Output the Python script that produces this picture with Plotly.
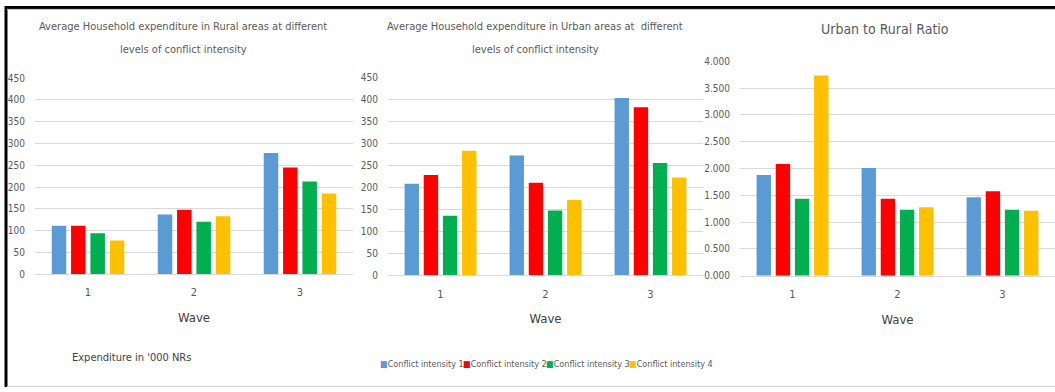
import plotly.graph_objects as go

# Survey waves and conflict-intensity groups
waves = ["1", "2", "3"]
series_names = ["Conflict intensity 1", "Conflict intensity 2",
                "Conflict intensity 3", "Conflict intensity 4"]
series_colors = ["#5B9BD5", "#FF0000", "#00B050", "#FFC000"]

# Average household expenditure, rural areas ('000 NRs), one list per intensity
rural_values = [
    [111, 137, 278],
    [111, 148, 245],
    [94, 120, 213],
    [77, 133, 185],
]

# Average household expenditure, urban areas ('000 NRs)
urban_values = [
    [209, 273, 404],
    [229, 211, 383],
    [136, 148, 256],
    [284, 172, 223],
]

# Urban to rural ratio
ratio_values = [
    [1.878, 2.008, 1.461],
    [2.083, 1.437, 1.573],
    [1.437, 1.232, 1.232],
    [3.733, 1.275, 1.213],
]

W, H = 1055, 392
FONT = "Liberation Sans Narrow, DejaVu Sans Condensed, Arial Narrow, sans-serif"
GRAY = "#595959"
DARK = "#404040"
GRID = "#D9D9D9"

# vertical placement correction for the page viewport
Y_OFF, Y_SCALE = 4.85, 0.971


def px_x(v):
    return v / W


def px_y(v):
    return 1 - ((v - Y_OFF) / Y_SCALE) / H


fig = go.Figure()

panels = [
    (rural_values, "x", "y"),
    (urban_values, "x2", "y2"),
    (ratio_values, "x3", "y3"),
]
for values, xa, ya in panels:
    for name, color, vals in zip(series_names, series_colors, values):
        fig.add_trace(go.Bar(
            x=waves, y=vals, name=name, xaxis=xa, yaxis=ya,
            marker=dict(color=color, line=dict(width=0)),
            showlegend=False,
        ))

# Plot-area geometry in pixels: (left, right, bottom, top)
geo = [
    (35, 353, 272.7, 77),
    (388, 703, 274, 76.7),
    (740, 1055, 274.3, 60),
]

xaxis_common = dict(
    type="category", showgrid=False, zeroline=False,
    showline=True, linecolor=GRID, linewidth=1,
    ticks="", ticklabelstandoff=8,
    tickfont=dict(family=FONT, size=11, color=GRAY),
    title=dict(text="Wave", font=dict(family=FONT, size=13, color=DARK), standoff=14),
)
yaxis_common = dict(
    showgrid=True, gridcolor=GRID, gridwidth=1, zeroline=False,
    showline=False, ticks="", ticklabelstandoff=9,
    tickfont=dict(family=FONT, size=10, color=GRAY),
)

layout_axes = {}
for i, (l, r, b, t) in enumerate(geo):
    sfx = "" if i == 0 else str(i + 1)
    layout_axes["xaxis" + sfx] = dict(
        xaxis_common, domain=[px_x(l), px_x(r)], anchor="y" + sfx,
    )
    if i < 2:
        yspec = dict(range=[0, 450], dtick=50, tickformat="d")
    else:
        yspec = dict(range=[0, 4], dtick=0.5, tickformat=".3f")
    layout_axes["yaxis" + sfx] = dict(
        yaxis_common, domain=[px_y(b), px_y(t)], anchor="x" + sfx, **yspec,
    )

annotations = []


def add_text(text, x, y, size, color, xanchor="center"):
    annotations.append(dict(
        text=text, x=px_x(x), y=px_y(y), xref="paper", yref="paper",
        xanchor=xanchor, yanchor="middle", showarrow=False,
        font=dict(family=FONT, size=size, color=color),
    ))


# Panel titles
add_text("Average Household expenditure in Rural areas at different", 183, 25, 11, GRAY)
add_text("levels of conflict intensity", 183, 48, 11, GRAY)
add_text("Average Household expenditure in Urban areas at  different", 535, 25, 11, GRAY)
add_text("levels of conflict intensity", 535, 48, 11, GRAY)
add_text("Urban to Rural Ratio", 885, 28, 14, GRAY)

# Unit note
add_text("Expenditure in '000 NRs", 70, 356, 11, DARK, xanchor="left")

# Series key under the middle panel
for i, (name, color) in enumerate(zip(series_names, series_colors)):
    add_text(f"<span style='color:{color}'>■</span>{name}",
             378 + i * 83, 363, 9, GRAY, xanchor="left")

shapes = [
    # outer frame: heavy top and left rules, faint bottom rule
    dict(type="line", xref="paper", yref="paper",
         x0=px_x(5), x1=1, y0=1 - 1.5 / H, y1=1 - 1.5 / H,
         line=dict(color="black", width=3)),
    dict(type="line", xref="paper", yref="paper",
         x0=px_x(6), x1=px_x(6), y0=1, y1=0,
         line=dict(color="black", width=3)),
    dict(type="line", xref="paper", yref="paper",
         x0=px_x(7), x1=1, y0=1 - 3.5 / H, y1=1 - 3.5 / H,
         line=dict(color="#C8C8C8", width=1)),
    dict(type="line", xref="paper", yref="paper",
         x0=px_x(7), x1=1, y0=0.5 / H, y1=0.5 / H,
         line=dict(color="#D0D0D0", width=1)),
]

fig.update_layout(
    width=W, height=H,
    margin=dict(l=0, r=0, t=0, b=0),
    paper_bgcolor="white", plot_bgcolor="white",
    barmode="group", bargap=0.27, bargroupgap=0.25,
    annotations=annotations, shapes=shapes,
    showlegend=False,
    **layout_axes,
)

fig.write_html("out.html")
